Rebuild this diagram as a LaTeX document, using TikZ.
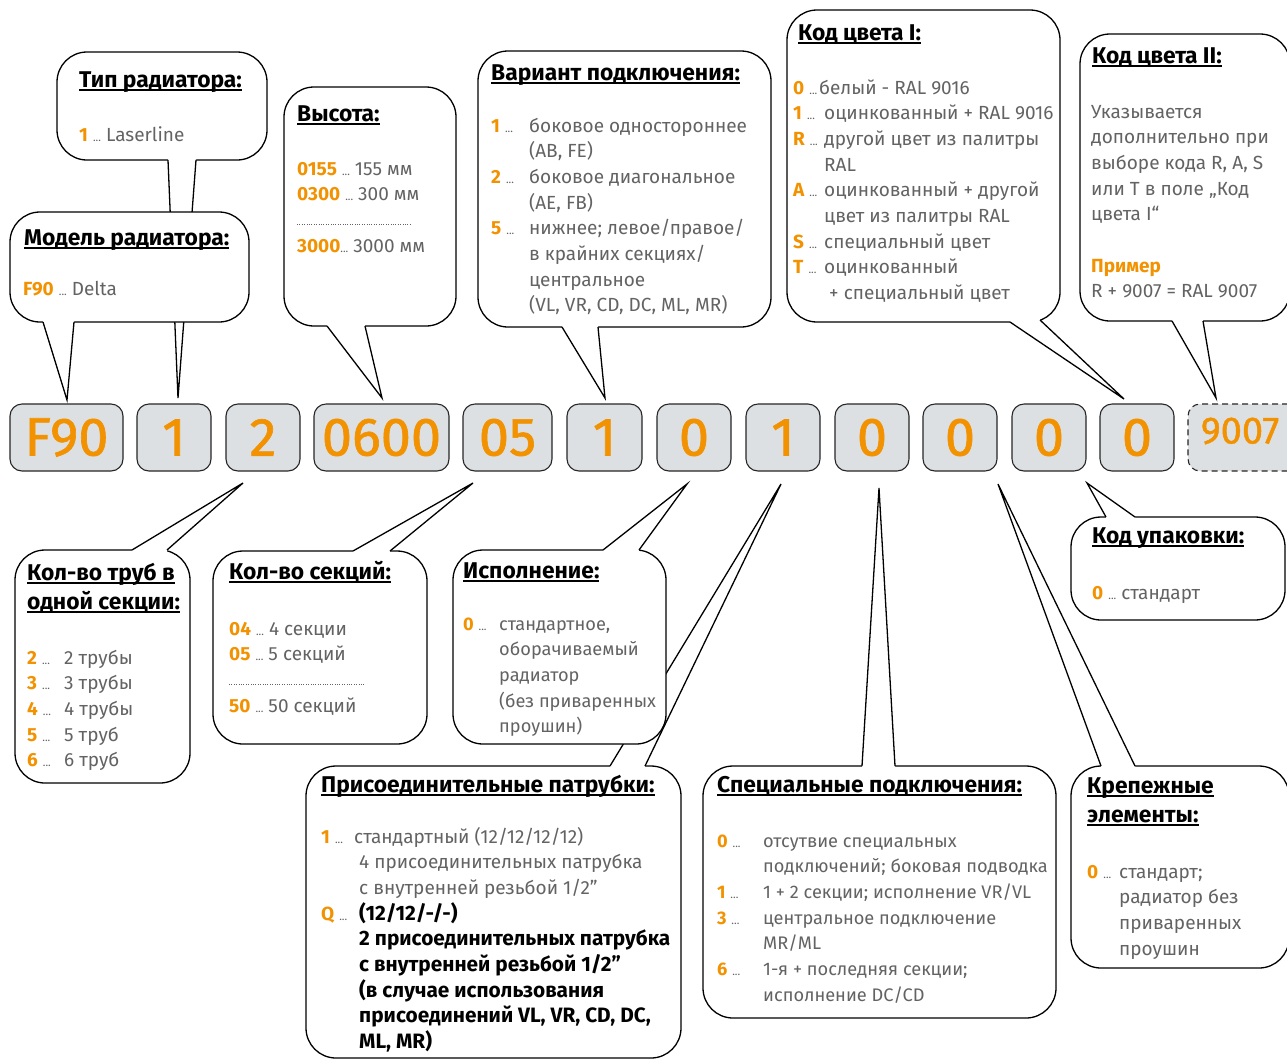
\documentclass[tikz,border=0pt]{standalone}
\usepackage{fontspec}
\setmainfont{Fira Sans}
\newfontfamily\codefont{Fira Sans}[FakeBold=1.2]
\usetikzlibrary{calc}
\definecolor{codeor}{HTML}{F39200}
\definecolor{boxgray}{HTML}{DCE0E2}
\definecolor{txtgray}{HTML}{636363}
\newcommand{\cd}[1]{{\color{codeor}\bfseries #1}}
\newcommand{\dt}{{\fontsize{11}{11}\selectfont...}}
\newcommand{\ulx}[1]{\setbox0\hbox{#1}\rlap{\rule[-3.5pt]{\wd0}{1.4pt}}\box0}
\newcommand{\cl}[2]{\makebox[#1][l]{\cd{#2} \dt}}
\newcommand{\rows}[1]{\begin{tabular}[t]{@{}l@{}l@{}}#1\end{tabular}}
\newcommand{\tlines}[1]{\begin{tabular}[t]{@{}l@{}}#1\end{tabular}}
\newcommand{\bk}[1]{{\color{black}\bfseries\fontsize{20.8}{25.7}\selectfont #1}}
\newcommand{\callwedge}[4]{%
  \fill[white] ($(#1)+(0,#4)$) -- (#1) -- (#3) -- (#2) -- ($(#2)+(0,#4)$) -- cycle;
  \draw[cline] (#1) -- (#3) -- (#2);}
\newcommand{\callrect}[5]{\node[callbox, minimum width={(#4-#2)*1pt}, minimum height={(#5-#3)*1pt}] (#1) at (#2,#3) {};}
\newcommand{\kbox}[4]{\node[codebox, minimum width={(#3-#2)*1pt}, minimum height=67pt] (#1) at ({(#2+#3)/2},437.5) {#4};}
\tikzset{
 callbox/.style={draw=black, line width=1.3pt, fill=white, rounded corners=30pt, inner sep=0pt, outer sep=0pt, anchor=north west},
 codebox/.style={draw=black!85, line width=1.1pt, fill=boxgray, rounded corners=12pt, inner sep=0pt, text=codeor, font=\codefont\fontsize{54}{54}\selectfont},
 cline/.style={draw=black, line width=1.3pt},
 ttl/.style={anchor=base west, inner sep=0pt, font=\fontsize{22.8}{29}\selectfont\bfseries},
 body/.style={anchor=base west, inner sep=0pt, text=txtgray, font=\fontsize{19}{25.7}\selectfont},
 bodys/.style={body, font=\fontsize{18.2}{25.7}\selectfont},
 dotl/.style={draw=txtgray, line width=0.8pt, dash pattern=on 0.8pt off 1.6pt}
}
\begin{document}
\begin{tikzpicture}[x=1pt,y=-1pt]
\useasboundingbox (0,0) rectangle (1287,1061);
\clip (0,0) rectangle (1287,1061);
% code boxes
\kbox{k1}{10}{123}{F90}
\kbox{k2}{137}{211}{1}
\kbox{k3}{226}{300}{2}
\kbox{k4}{314}{449}{0600}
\kbox{k5}{463}{552}{05}
\kbox{k6}{567}{642}{1}
\kbox{k7}{657}{731}{0}
\kbox{k8}{746}{820}{1}
\kbox{k9}{835}{909}{0}
\kbox{k10}{923}{997}{0}
\kbox{k11}{1012}{1086}{0}
\kbox{k12}{1100}{1174}{0}
\node[codebox, dash pattern=on 6pt off 4pt, minimum width=112pt, minimum height=67pt] (k13) at (1244,437.5) {};
\node[text=codeor, font=\codefont\fontsize{38}{38}\selectfont, inner sep=0pt] (k13t) at (1240,431) {9007};
% wedge coordinates
\coordinate (w1a) at (168,160); \coordinate (w1b) at (196,160); \coordinate (w1t) at (178,398);
\coordinate (w2a) at (43,322); \coordinate (w2b) at (74,322); \coordinate (w2t) at (67,400);
\coordinate (w3a) at (327,326); \coordinate (w3b) at (365,326); \coordinate (w3t) at (382,398);
\coordinate (w4a) at (562,327); \coordinate (w4b) at (598,327); \coordinate (w4t) at (605,398);
\coordinate (w5a) at (1010,322); \coordinate (w5b) at (1040,320); \coordinate (w5t) at (1124,399);
\coordinate (w6a) at (1172,321); \coordinate (w6b) at (1203,321); \coordinate (w6t) at (1216,398);
\coordinate (w7a) at (132,550); \coordinate (w7b) at (167,550); \coordinate (w7t) at (243,483);
\coordinate (w8a) at (353,551); \coordinate (w8b) at (390,551); \coordinate (w8t) at (473,483);
\coordinate (w9a) at (603,550); \coordinate (w9b) at (639,550); \coordinate (w9t) at (687,484);
\coordinate (w10a) at (610,766); \coordinate (w10b) at (645,766); \coordinate (w10t) at (781,484);
\coordinate (w11a) at (862,766); \coordinate (w11b) at (895,766); \coordinate (w11t) at (879,488);
\coordinate (w12a) at (1101,766); \coordinate (w12b) at (1135,766); \coordinate (w12t) at (998,484);
\coordinate (w13a) at (1106,517); \coordinate (w13b) at (1135,517); \coordinate (w13t) at (1087,483);
% callouts
\callrect{r1}{57}{52}{267}{160} \callwedge{w1a}{w1b}{w1t}{-3}
\callrect{r2}{10}{212}{249}{322} \callwedge{w2a}{w2b}{w2t}{-3}
\callrect{r3}{284}{87}{456}{326} \callwedge{w3a}{w3b}{w3t}{-3}
\callrect{r4}{478}{51}{771}{327} \callwedge{w4a}{w4b}{w4t}{-3}
\callrect{r5}{787}{10}{1060}{322} \callwedge{w5a}{w5b}{w5t}{-3}
\callrect{r6}{1080}{34}{1290}{321} \callwedge{w6a}{w6b}{w6t}{-3}
\callrect{r7}{15}{550}{190}{783} \callwedge{w7a}{w7b}{w7t}{3}
\callrect{r8}{213}{551}{427}{744} \callwedge{w8a}{w8b}{w8t}{3}
\callrect{r10}{306}{766}{681}{1058} \callwedge{w10a}{w10b}{w10t}{3}
\callrect{r9}{453}{550}{666}{744} \callwedge{w9a}{w9b}{w9t}{3}
\callrect{r11}{703}{766}{1056}{1018} \callwedge{w11a}{w11b}{w11t}{3}
\callrect{r12}{1071}{766}{1289}{968} \callwedge{w12a}{w12b}{w12t}{3}
\callrect{r13}{1071}{517}{1285}{620} \callwedge{w13a}{w13b}{w13t}{3}
% dotted separators
\draw[dotl] (297,224) -- (410,224);
\draw[dotl] (229,684) -- (364,684);
% titles
\node[ttl] (t1) at (79,87) {\ulx{Тип радиатора:}};
\node[ttl] (t2) at (24,245) {\ulx{Модель радиатора:}};
\node[ttl] (t3) at (297,121) {\ulx{Высота:}};
\node[ttl] (t4) at (491,80) {\ulx{Вариант подключения:}};
\node[ttl] (t5) at (798,40) {\ulx{Код цвета I:}};
\node[ttl] (t6) at (1092,63) {\ulx{Код цвета II:}};
\node[ttl] (t7) at (27,580) {\tlines{\ulx{Кол-во труб в}\\\ulx{одной секции:}}};
\node[ttl] (t8) at (229,579) {\ulx{Кол-во секций:}};
\node[ttl] (t9) at (463,578) {\ulx{Исполнение:}};
\node[ttl] (t10) at (321,792) {\ulx{Присоединительные патрубки:}};
\node[ttl] (t11) at (717,792) {\ulx{Специальные подключения:}};
\node[ttl] (t12) at (1087,793) {\tlines{\ulx{Крепежные}\\\ulx{элементы:}}};
\node[ttl] (t13) at (1092,543) {\ulx{Код упаковки:}};
% bodies
\node[body] (b1) at (79,141) {\cd{1} \dt\ Laserline};
\node[body] (b2) at (23,295) {\cd{F90} \dt\ Delta};
\node[body] (b3) at (297,175) {\tlines{\cd{0155} \dt\ 155 мм\\\cd{0300} \dt\ 300 мм\\ \\\cd{3000}\dt\ 3000 мм}};
\node[body] (b4) at (491,132) {\rows{\cl{38pt}{1} & боковое одностороннее\\ & (AB, FE)\\
 \cl{38pt}{2} & боковое диагональное\\ & (AE, FB)\\
 \cl{38pt}{5} & нижнее; левое/правое/\\ & в крайних секциях/\\ & центральное\\ & (VL, VR, CD, DC, ML, MR)}};
\node[body] (b5) at (793,94) {\rows{\cl{31pt}{0} & \hspace{-5pt}белый - RAL 9016\\
 \cl{31pt}{1} & оцинкованный + RAL 9016\\
 \cl{31pt}{R} & другой цвет из палитры\\ & RAL\\
 \cl{31pt}{A} & оцинкованный + другой\\ & цвет из палитры RAL\\
 \cl{31pt}{S} & специальный цвет\\
 \cl{31pt}{T} & оцинкованный\\ & \ + специальный цвет}};
\node[body] (b6) at (1091,118) {\tlines{Указывается\\дополнительно при\\выборе кода R, A, S\\или T в поле „Код\\цвета I“\\ \\\cd{Пример}\\R + 9007 = RAL 9007}};
\node[body] (b7) at (27,664) {\rows{\cl{37pt}{2} & 2 трубы\\ \cl{37pt}{3} & 3 трубы\\ \cl{37pt}{4} & 4 трубы\\ \cl{37pt}{5} & 5 труб\\ \cl{37pt}{6} & 6 труб}};
\node[body] (b8) at (229,635) {\tlines{\cd{04} \dt\ 4 секции\\\cd{05} \dt\ 5 секций\\ \\\cd{50} \dt\ 50 секций}};
\node[bodys] (b9) at (463,630) {\rows{\cl{36pt}{0} & стандартное,\\ & оборачиваемый\\ & радиатор\\ & (без приваренных\\ & проушин)}};
\node[body] (b10) at (321,843) {\rows{\cl{38pt}{1} & \hspace{-5pt}стандартный (12/12/12/12)\\
 & 4 присоединительных патрубка\\ & с внутренней резьбой 1/2”\\
 \cl{38pt}{Q} & \bk{(12/12/-/-)}\\ & \bk{2 присоединительных патрубка}\\ & \bk{с внутренней резьбой 1/2”}\\
 & \bk{(в случае использования}\\ & \bk{присоединений VL, VR, CD, DC,}\\ & \bk{ML, MR)}}};
\node[bodys] (b11) at (717,847) {\rows{\cl{46pt}{0} & отсутвие специальных\\ & подключений; боковая подводка\\
 \cl{46pt}{1} & 1 + 2 секции; исполнение VR/VL\\
 \cl{46pt}{3} & центральное подключение\\ & MR/ML\\
 \cl{46pt}{6} & 1-я + последняя секции;\\ & исполнение DC/CD}};
\node[body] (b12) at (1087,878) {\rows{\cl{32pt}{0} & стандарт;\\ & радиатор без\\ & приваренных\\ & проушин}};
\node[body] (b13) at (1092,599) {\cd{0} \dt\ стандарт};
\end{tikzpicture}
\end{document}
